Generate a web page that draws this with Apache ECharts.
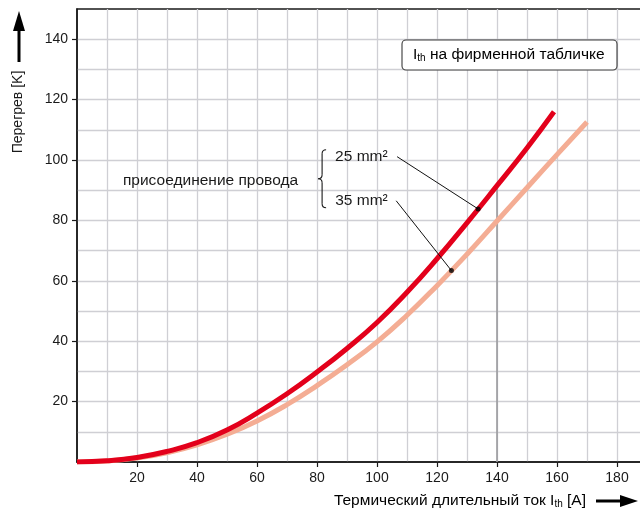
<!DOCTYPE html>
<html>
<head>
<meta charset="utf-8">
<script src="https://cdn.jsdelivr.net/npm/echarts@6/dist/echarts.min.js"></script>
<style>
  html, body { margin: 0; padding: 0; background: #fff; overflow: hidden; }
  /* the plot area runs slightly past the right edge of the window */
  #chart { width: 652px; height: 515px; }
</style>
</head>
<body>
<div id="chart"></div>
<script>
// Current in A and temperature rise in K for the two wire cross-sections
const current25 = [0, 10, 20, 30, 40, 50, 60, 70, 80, 90, 100, 110, 120, 130, 140, 150, 159];
const rise25    = [0, 0.4, 1.5, 3.5, 6.4, 10.6, 16.2, 22.6, 29.8, 37.6, 46.2, 56.2, 67.3, 79.2, 91.5, 104.0, 116.0];
const current35 = [0, 10, 20, 30, 40, 50, 60, 70, 80, 90, 100, 110, 120, 130, 140, 150, 160, 170];
const rise35    = [0, 0.3, 1.3, 3.1, 5.7, 9.2, 13.6, 19.0, 25.3, 32.2, 39.8, 48.6, 58.4, 68.8, 79.8, 90.8, 101.8, 112.6];

const xTicks = [20, 40, 60, 80, 100, 120, 140, 160, 180];
const yTicks = [20, 40, 60, 80, 100, 120, 140];

// Rated current shown on the nameplate
const ratedCurrent = 140;
// Annotation anchors (data units): text end of the leader and point on the curve
const lead25 = [[106.7, 101.1], [133.7, 83.8]];
const lead35 = [[106.4, 86.5], [124.8, 63.4]];

const FONT = '"Liberation Sans", Arial, sans-serif';
const RED = '#e3001b';
const SALMON = '#f4ad94';
const INK = '#1a1a1a';

function pairs(xs, ys) { return xs.map((x, i) => [x, ys[i]]); }
function riseAt(xs, ys, x) { return ys[xs.indexOf(x)]; }

const chart = echarts.init(document.getElementById('chart'), null, { renderer: 'canvas' });

const gridLine = { show: true, lineStyle: { color: '#cfcfd4', width: 1.3 } };

function axisCommon(ticks) {
  return {
    type: 'value', min: 0, interval: 20,
    axisLine: { show: true, onZero: false, lineStyle: { color: INK, width: 1.5 } },
    axisTick: { show: true, length: 5, inside: false, customValues: ticks, lineStyle: { color: INK, width: 1.2 } },
    axisLabel: { color: INK, fontFamily: FONT, fontSize: 14, margin: 9, customValues: ticks },
    splitLine: gridLine,
    minorTick: { show: false, splitNumber: 2 },
    minorSplitLine: gridLine
  };
}

chart.setOption({
  animation: false,
  backgroundColor: '#fff',
  grid: { left: 77, top: 9, width: 570, height: 453, show: true, borderColor: INK, borderWidth: 1.5, backgroundColor: 'transparent' },
  xAxis: Object.assign(axisCommon(xTicks), { max: 190 }),
  yAxis: Object.assign(axisCommon(yTicks), { max: 150 }),
  series: [
    {
      name: 'nameplate', type: 'line', silent: true, symbol: 'none', z: 3,
      data: [[ratedCurrent, 0], [ratedCurrent, riseAt(current25, rise25, ratedCurrent)]],
      lineStyle: { color: '#9a9a9e', width: 1.6 }
    },
    {
      name: '35 mm²', type: 'line', smooth: true, symbol: 'none', z: 4,
      data: pairs(current35, rise35),
      lineStyle: { color: SALMON, width: 5, cap: 'butt' }
    },
    {
      name: '25 mm²', type: 'line', smooth: true, symbol: 'none', z: 5,
      data: pairs(current25, rise25),
      lineStyle: { color: RED, width: 5, cap: 'butt' }
    },
    {
      name: 'leader25', type: 'line', symbol: 'none', z: 6, silent: true,
      data: lead25, lineStyle: { color: '#111', width: 1 }
    },
    {
      name: 'leader35', type: 'line', symbol: 'none', z: 6, silent: true,
      data: lead35, lineStyle: { color: '#111', width: 1 }
    },
    {
      name: 'leaderDots', type: 'scatter', symbol: 'circle', symbolSize: 5, z: 7, silent: true,
      data: [lead25[1], lead35[1]], itemStyle: { color: '#000' }
    }
  ]
});

// Text annotations, nameplate box and axis titles with arrows
function drawOverlay() {
  const p25 = chart.convertToPixel({ gridIndex: 0 }, lead25[0]);
  const p35 = chart.convertToPixel({ gridIndex: 0 }, lead35[0]);
  const bx = p25[0] - 77;
  const midY = (p25[1] + p35[1]) / 2;
  const txt = { fontFamily: FONT, fontSize: 15.5, fill: INK };
  const braceStroke = { stroke: INK, lineWidth: 1.1, fill: null };
  const top = midY - 29, bot = midY + 29;
  const sub = {
    a: { fontFamily: FONT, fontSize: 15.5, color: INK },
    s: { fontFamily: FONT, fontSize: 10, color: INK, verticalAlign: 'bottom', padding: [6, 0, 0, 0] }
  };
  chart.setOption({
    graphic: [
      { type: 'text', z: 10, x: p25[0] - 62, y: p25[1],
        style: Object.assign({ text: '25 mm²', align: 'left', verticalAlign: 'middle' }, txt) },
      { type: 'text', z: 10, x: p35[0] - 61, y: p35[1],
        style: Object.assign({ text: '35 mm²', align: 'left', verticalAlign: 'middle' }, txt) },
      { type: 'text', z: 10, x: bx - 22, y: midY + 2,
        style: Object.assign({ text: 'присоединение провода', align: 'right', verticalAlign: 'middle' }, txt) },
      // curly brace
      { type: 'bezierCurve', z: 10, shape: { x1: bx + 6, y1: top, cpx1: bx + 2, cpy1: top, x2: bx + 2, y2: top + 4 }, style: braceStroke },
      { type: 'line', z: 10, shape: { x1: bx + 2, y1: top + 4, x2: bx + 2, y2: midY - 4 }, style: braceStroke },
      { type: 'bezierCurve', z: 10, shape: { x1: bx + 2, y1: midY - 4, cpx1: bx + 2, cpy1: midY, x2: bx - 2, y2: midY }, style: braceStroke },
      { type: 'bezierCurve', z: 10, shape: { x1: bx - 2, y1: midY, cpx1: bx + 2, cpy1: midY, x2: bx + 2, y2: midY + 4 }, style: braceStroke },
      { type: 'line', z: 10, shape: { x1: bx + 2, y1: midY + 4, x2: bx + 2, y2: bot - 4 }, style: braceStroke },
      { type: 'bezierCurve', z: 10, shape: { x1: bx + 2, y1: bot - 4, cpx1: bx + 2, cpy1: bot, x2: bx + 6, y2: bot }, style: braceStroke },
      // nameplate box
      { type: 'rect', z: 10, shape: { x: 402, y: 40, width: 215, height: 30, r: 4 },
        style: { fill: '#fff', stroke: '#3a3a3a', lineWidth: 1.1 } },
      { type: 'text', z: 11, x: 413, y: 55,
        style: { text: '{a|I}{s|th}{a| на фирменной табличке}', verticalAlign: 'middle', rich: sub } },
      // x axis title
      { type: 'text', z: 11, x: 586, y: 501,
        style: { text: '{a|Термический длительный ток I}{s|th}{a| [A]}', align: 'right', verticalAlign: 'middle', rich: sub } },
      { type: 'line', z: 11, shape: { x1: 596, y1: 501, x2: 624, y2: 501 },
        style: { stroke: '#000', lineWidth: 3 } },
      { type: 'polygon', z: 11, shape: { points: [[638, 501], [620, 495], [620, 507]] },
        style: { fill: '#000' } },
      // y axis title
      { type: 'text', z: 11, x: 18, y: 112, rotation: Math.PI / 2,
        style: { text: 'Перегрев [K]', align: 'center', verticalAlign: 'middle', fontFamily: FONT, fontSize: 14, fill: INK } },
      { type: 'line', z: 11, shape: { x1: 19, y1: 62, x2: 19, y2: 28 },
        style: { stroke: '#000', lineWidth: 3 } },
      { type: 'polygon', z: 11, shape: { points: [[19, 11], [13, 31], [25, 31]] },
        style: { fill: '#000' } }
    ]
  });
}
drawOverlay();
</script>
</body>
</html>
